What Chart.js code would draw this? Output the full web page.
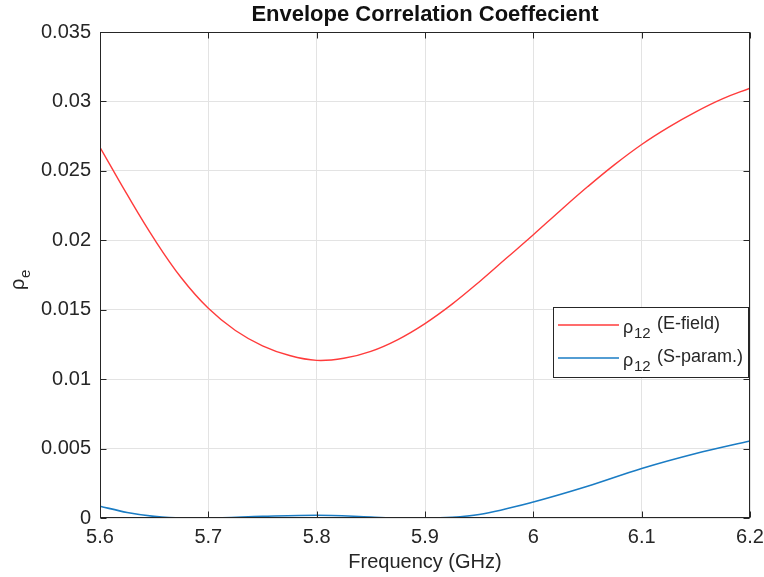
<!DOCTYPE html>
<html>
<head>
<meta charset="utf-8">
<script src="https://cdn.jsdelivr.net/npm/chart.js@4.4.1/dist/chart.umd.min.js"></script>
<style>
  html, body { margin: 0; padding: 0; background: #fff; }
  #grafico { display: block; }
</style>
</head>
<body>
<canvas id="grafico" width="764" height="577"></canvas>
<script>
// datos
const frecuenciaE = [5.6, 5.625, 5.65, 5.675, 5.7, 5.725, 5.75, 5.775, 5.8, 5.825, 5.85, 5.875, 5.9,
  5.925, 5.95, 5.975, 6.0, 6.025, 6.05, 6.075, 6.1, 6.125, 6.15, 6.175, 6.2];
const rhoEfield = [0.0267, 0.0233, 0.0201, 0.0173, 0.0151, 0.0135, 0.0124, 0.0117, 0.01135, 0.0115, 0.0120, 0.01285, 0.0140,
  0.0154, 0.0170, 0.0187, 0.0204, 0.02215, 0.02385, 0.02545, 0.0269, 0.02815, 0.02925, 0.0302, 0.03095];

const frecuenciaS = [5.6, 5.625, 5.65, 5.675, 5.7, 5.75, 5.8, 5.85, 5.875, 5.9, 5.925, 5.95, 6.0, 6.05, 6.1, 6.15, 6.2];
const rhoSparam = [0.00085, 0.0004, 0.00012, 0.0, 0.0, 0.00012, 0.0002, 0.00007, 0.0, 0.0, 0.00005, 0.00025, 0.00115, 0.00228, 0.00356, 0.00464, 0.00555];

const ticksX = [5.6, 5.7, 5.8, 5.9, 6.0, 6.1, 6.2];
const ticksY = [0, 0.005, 0.01, 0.015, 0.02, 0.025, 0.03, 0.035];

const etiquetas = ["(E-field)", "(S-param.)"];
const colores = ["#ff3b3b", "#1a7cc4"];

const fuente = "'Liberation Sans', Arial, sans-serif";
const gris = "#262626";

function puntos(xs, ys) {
  return xs.map((x, i) => ({ x: x, y: ys[i] }));
}

// marco estilo matlab: caja, ticks hacia adentro, etiqueta y, leyenda
const marcoPlugin = {
  id: "marco",
  afterDraw(chart) {
    const ctx = chart.ctx;
    const a = chart.chartArea;
    const sx = chart.scales.x;
    const sy = chart.scales.y;
    ctx.save();
    ctx.strokeStyle = gris;
    ctx.lineWidth = 1;
    const l = Math.round(a.left) + 0.5, r = Math.round(a.right) - 0.5;
    const t = Math.round(a.top) + 0.5, b = Math.round(a.bottom) - 0.5;
    ctx.strokeRect(l, t, r - l, b - t);
    ctx.beginPath();
    ticksX.forEach(v => {
      const px = Math.round(sx.getPixelForValue(v)) + 0.5;
      ctx.moveTo(px, b); ctx.lineTo(px, b - 6);
      ctx.moveTo(px, t); ctx.lineTo(px, t + 6);
    });
    ticksY.forEach(v => {
      const py = Math.round(sy.getPixelForValue(v)) + 0.5;
      ctx.moveTo(l, py); ctx.lineTo(l + 6, py);
      ctx.moveTo(r, py); ctx.lineTo(r - 6, py);
    });
    ctx.stroke();

    // etiqueta eje y: rho_e
    ctx.save();
    ctx.translate(24, 284);
    ctx.rotate(-Math.PI / 2);
    ctx.fillStyle = gris;
    ctx.textBaseline = "alphabetic";
    ctx.textAlign = "left";
    ctx.font = "20px " + fuente;
    ctx.fillText("\u03C1", -6, 0);
    ctx.font = "15px " + fuente;
    ctx.fillText("e", 6, 6);
    ctx.restore();

    // leyenda
    const lx = 553.5, ly = 307.5, lw = 195, lh = 70;
    ctx.fillStyle = "#fff";
    ctx.fillRect(lx, ly, lw, lh);
    ctx.strokeStyle = gris;
    ctx.strokeRect(lx, ly, lw, lh);
    const filas = [325, 358];
    chart.data.datasets.forEach((ds, i) => {
      const y = filas[i];
      ctx.strokeStyle = ds.borderColor;
      ctx.lineWidth = 1.6;
      ctx.beginPath();
      ctx.moveTo(558, y); ctx.lineTo(619, y);
      ctx.stroke();
      ctx.fillStyle = gris;
      ctx.textBaseline = "middle";
      ctx.font = "18px " + fuente;
      ctx.fillText("\u03C1", 623, y + 3);
      ctx.font = "15px " + fuente;
      ctx.fillText("12", 634, y + 9);
      ctx.font = "18px " + fuente;
      ctx.fillText(etiquetas[i], 657, y - 1);
    });
    ctx.restore();
  },
};

new Chart(document.getElementById("grafico"), {
  type: "line",
  data: {
    datasets: [
      {
        label: "\u03C112 (E-field)",
        data: puntos(frecuenciaE, rhoEfield),
        borderColor: colores[0],
        borderWidth: 1.4,
        tension: 0.4,
        pointRadius: 0,
        fill: false,
      },
      {
        label: "\u03C112 (S-param.)",
        data: puntos(frecuenciaS, rhoSparam),
        borderColor: colores[1],
        borderWidth: 1.6,
        cubicInterpolationMode: "monotone",
        pointRadius: 0,
        fill: false,
      },
    ],
  },
  options: {
    responsive: false,
    animation: false,
    layout: { padding: { left: 0, right: 14, top: 0, bottom: 0 } },
    plugins: {
      legend: { display: false },
      tooltip: { enabled: false },
      title: {
        display: true,
        fullSize: false,
        text: "Envelope Correlation Coeffecient",
        color: "#111",
        font: { family: fuente, size: 22, weight: "bold" },
        padding: { top: 1.8, bottom: 3.8 },
      },
    },
    scales: {
      x: {
        type: "linear",
        min: 5.6,
        max: 6.2,
        afterBuildTicks: (s) => { s.ticks = ticksX.map(v => ({ value: v })); },
        afterFit: (s) => {
          s.height = 59;
          s.paddingLeft = 0;
          s.paddingRight = 0;
        },
        grid: { color: "#e3e3e3", drawTicks: false },
        border: { display: false },
        ticks: {
          color: gris,
          padding: 7,
          maxRotation: 0,
          font: { family: fuente, size: 20 },
          callback: (v) => (Math.round(v * 10) / 10).toString(),
        },
        title: {
          display: true,
          text: "Frequency (GHz)",
          color: gris,
          font: { family: fuente, size: 20 },
          padding: { top: 0, bottom: 3 },
        },
      },
      y: {
        min: 0,
        max: 0.035,
        afterBuildTicks: (s) => { s.ticks = ticksY.map(v => ({ value: v })); },
        afterFit: (s) => {
          s.width = 100;
          s.paddingTop = 0;
          s.paddingBottom = 0;
        },
        grid: { color: "#e3e3e3", drawTicks: false },
        border: { display: false },
        ticks: {
          color: gris,
          padding: 9,
          font: { family: fuente, size: 20 },
          callback: (v) => parseFloat(v.toFixed(3)).toString(),
        },
      },
    },
  },
  plugins: [marcoPlugin],
});
</script>
</body>
</html>
